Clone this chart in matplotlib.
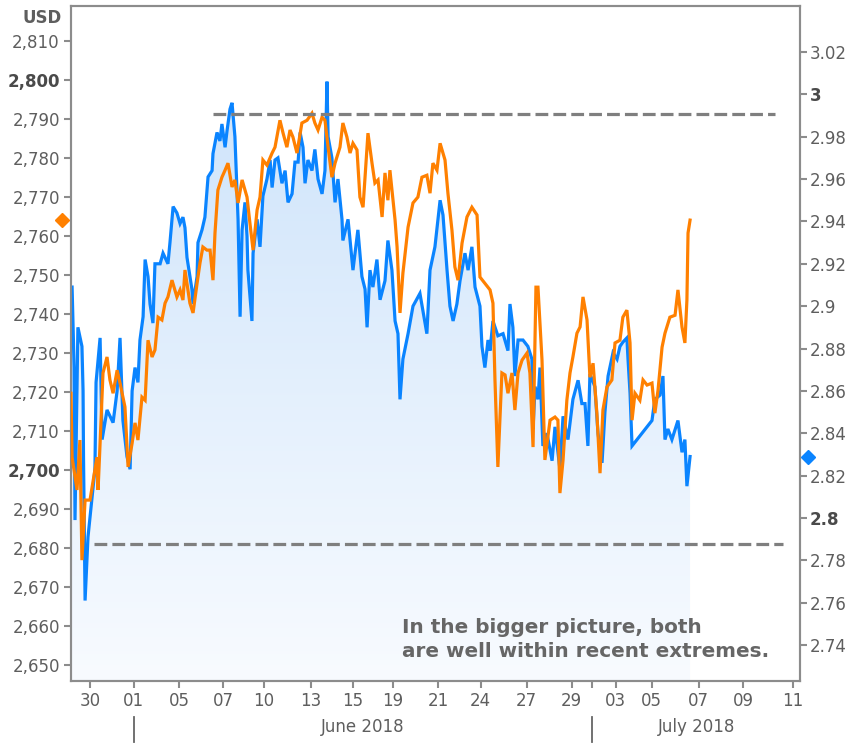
import numpy as np
import matplotlib
matplotlib.use('Agg')
import matplotlib.pyplot as plt
from matplotlib.colors import LinearSegmentedColormap
from matplotlib.ticker import FuncFormatter

# time axis in trading days, 0 = 30 May 2018
tick_pos = [0.00, 1.96, 3.97, 5.94, 7.77, 9.87, 11.74, 13.53, 15.55, 17.44,
            19.50, 21.50, 22.42, 23.48, 25.07, 27.17, 29.17, 31.37]
tick_labels = ['30', '01', '05', '07', '10', '13', '15', '19', '21', '24',
               '27', '29', '', '03', '05', '07', '09', '11']
month_labels = ['June 2018', 'July 2018']
month_starts = [1.96, 22.42]

# S&P 500 futures (left axis, USD)
t_spx = [-0.85, -0.80, -0.58, -0.45, -0.36, -0.22, -0.13, 0.00, 0.31, 0.36,
         0.45, 0.58, 0.76, 0.89, 1.03, 1.21, 1.34, 1.56, 1.70, 1.88,
         2.01, 2.14, 2.32, 2.46, 2.59, 2.77, 2.90, 3.04, 3.21, 3.35,
         3.48, 3.66, 3.88, 4.02, 4.15, 4.24, 4.46, 4.60, 4.78, 4.91,
         5.04, 5.22, 5.36, 5.49, 5.58, 5.71, 5.89, 6.03, 6.16, 6.34,
         6.47, 6.61, 6.79, 7.01, 7.14, 7.28, 7.46, 7.59, 7.72, 7.90,
         8.13, 8.26, 8.48, 8.62, 8.79, 8.93, 9.06, 9.24, 9.46, 9.69,
         9.91, 10.04, 10.18, 10.36, 10.49, 10.63, 10.80, 10.94, 11.16, 11.29,
         11.47, 11.61, 11.74, 11.92, 12.05, 12.19, 12.41, 12.59, 12.72, 12.86,
         13.04, 13.17, 13.30, 13.39, 13.62, 13.71, 13.84, 13.97, 14.20, 14.42,
         14.64, 14.82, 15.04, 15.18, 15.31, 15.49, 15.63, 15.85, 15.98, 16.16,
         16.29, 16.43, 16.61, 16.83, 17.05, 17.28, 17.41, 17.63, 17.86, 17.99,
         18.08, 18.21, 18.39, 18.53, 18.66, 18.84, 18.97, 19.11, 19.29, 19.51,
         19.64, 19.78, 19.91, 20.00, 20.18, 20.31, 20.54, 20.76, 20.89, 20.98,
         21.12, 21.29, 21.43, 21.56, 21.74, 21.88, 22.01, 22.19, 22.32, 22.46,
         22.63, 22.77, 22.90, 23.08, 23.30, 23.44, 23.66, 23.79, 23.97, 24.11,
         24.20, 24.33, 24.55, 24.69, 24.87, 25.09, 25.22, 25.36, 25.54, 25.67,
         25.89, 26.12, 26.25, 26.43, 26.56, 26.65, 26.70, 26.79]
spx = [2719.7, 2703.3, 2694.9, 2707.7, 2676.9, 2692.3, 2692.3, 2692.3, 2703.3, 2694.9,
       2706.9, 2724.9, 2729.0, 2723.1, 2719.7, 2725.6, 2722.3, 2716.2, 2700.8, 2706.9,
       2712.1, 2707.7, 2718.7, 2717.9, 2733.3, 2729.0, 2730.8, 2739.2, 2738.5, 2742.8,
       2744.4, 2748.7, 2744.4, 2746.2, 2743.6, 2751.3, 2742.8, 2740.3, 2747.9, 2753.1,
       2757.2, 2756.4, 2756.4, 2748.7, 2760.8, 2771.8, 2775.1, 2776.9, 2778.7, 2772.6,
       2774.4, 2768.5, 2774.4, 2770.0, 2763.3, 2756.4, 2766.7, 2770.0, 2779.5, 2778.2,
       2781.3, 2782.8, 2789.7, 2786.4, 2782.8, 2787.2, 2785.4, 2781.3, 2789.0, 2789.7,
       2791.5, 2789.0, 2787.2, 2790.5, 2789.7, 2782.8, 2775.1, 2778.7, 2782.8, 2789.0,
       2785.4, 2781.3, 2783.8, 2782.1, 2770.0, 2767.4, 2786.4, 2778.7, 2773.6, 2774.4,
       2764.9, 2776.2, 2769.2, 2776.9, 2764.1, 2757.2, 2740.3, 2750.5, 2762.3, 2768.5,
       2770.0, 2775.1, 2775.6, 2771.0, 2778.7, 2776.9, 2783.8, 2779.5, 2771.0, 2761.5,
       2752.1, 2748.7, 2758.2, 2764.9, 2767.4, 2765.4, 2749.5, 2747.9, 2746.2, 2742.8,
       2723.1, 2700.8, 2724.9, 2724.4, 2719.7, 2724.9, 2715.4, 2724.9, 2728.2, 2730.0,
       2724.9, 2705.9, 2746.9, 2746.9, 2728.2, 2702.6, 2712.8, 2713.6, 2712.8, 2694.1,
       2702.6, 2717.9, 2724.9, 2729.0, 2735.1, 2736.7, 2744.4, 2738.5, 2723.8, 2727.4,
       2714.6, 2699.2, 2715.4, 2721.3, 2723.1, 2732.6, 2733.3, 2739.2, 2741.0, 2732.6,
       2712.8, 2719.7, 2717.9, 2723.1, 2721.8, 2722.3, 2714.6, 2720.5, 2731.5, 2735.1,
       2739.2, 2739.7, 2746.2, 2736.7, 2732.6, 2743.6, 2760.8, 2764.1]

# 10-year yield (right axis)
t_yld = [-0.80, -0.71, -0.67, -0.54, -0.36, -0.31, -0.29, -0.22, -0.09, 0.22,
         0.27, 0.45, 0.54, 0.76, 1.03, 1.21, 1.34, 1.47, 1.65, 1.79,
         1.88, 2.01, 2.14, 2.23, 2.37, 2.46, 2.59, 2.68, 2.81, 2.90,
         3.13, 3.26, 3.48, 3.57, 3.71, 3.88, 4.02, 4.15, 4.24, 4.33,
         4.46, 4.55, 4.60, 4.78, 4.82, 5.00, 5.13, 5.27, 5.45, 5.49,
         5.67, 5.80, 5.89, 6.03, 6.12, 6.25, 6.34, 6.47, 6.61, 6.70,
         6.79, 6.92, 7.01, 7.05, 7.23, 7.28, 7.46, 7.59, 7.72, 7.90,
         8.04, 8.13, 8.26, 8.39, 8.57, 8.71, 8.84, 9.02, 9.15, 9.29,
         9.38, 9.51, 9.60, 9.73, 9.91, 10.04, 10.18, 10.36, 10.49, 10.58,
         10.63, 10.80, 10.94, 11.07, 11.25, 11.29, 11.52, 11.74, 11.96, 12.14,
         12.28, 12.37, 12.50, 12.63, 12.81, 12.95, 13.17, 13.30, 13.48, 13.62,
         13.75, 13.84, 13.97, 14.20, 14.42, 14.73, 15.04, 15.18, 15.40, 15.63,
         15.76, 15.94, 16.07, 16.21, 16.38, 16.52, 16.74, 16.88, 17.05, 17.19,
         17.41, 17.50, 17.63, 17.77, 17.86, 17.99, 18.21, 18.44, 18.66, 18.75,
         18.88, 18.97, 19.11, 19.33, 19.55, 19.73, 19.78, 19.87, 20.00, 20.09,
         20.22, 20.40, 20.63, 20.76, 20.98, 21.12, 21.34, 21.56, 21.79, 21.96,
         22.10, 22.23, 22.32, 22.54, 22.68, 22.86, 22.99, 23.13, 23.35, 23.53,
         23.66, 23.79, 23.97, 24.02, 24.11, 24.20, 25.09, 25.22, 25.45, 25.58,
         25.67, 25.80, 25.98, 26.25, 26.43, 26.56, 26.65, 26.79]
yld = [2.909, 2.871, 2.799, 2.890, 2.881, 2.860, 2.829, 2.761, 2.791, 2.823,
       2.864, 2.885, 2.837, 2.851, 2.845, 2.860, 2.885, 2.846, 2.829, 2.823,
       2.860, 2.871, 2.864, 2.884, 2.895, 2.922, 2.914, 2.901, 2.892, 2.920,
       2.920, 2.925, 2.920, 2.930, 2.947, 2.944, 2.939, 2.942, 2.937, 2.923,
       2.914, 2.908, 2.901, 2.914, 2.930, 2.936, 2.942, 2.961, 2.964, 2.972,
       2.982, 2.978, 2.986, 2.975, 2.983, 2.993, 2.996, 2.980, 2.941, 2.895,
       2.936, 2.949, 2.933, 2.917, 2.893, 2.925, 2.941, 2.928, 2.952, 2.960,
       2.969, 2.956, 2.969, 2.970, 2.958, 2.964, 2.949, 2.953, 2.968, 2.968,
       2.982, 2.975, 2.958, 2.969, 2.964, 2.974, 2.960, 2.953, 2.964, 3.006,
       2.980, 2.970, 2.949, 2.960, 2.941, 2.931, 2.941, 2.917, 2.936, 2.914,
       2.908, 2.890, 2.917, 2.909, 2.922, 2.903, 2.912, 2.931, 2.917, 2.893,
       2.887, 2.856, 2.875, 2.887, 2.900, 2.906, 2.887, 2.917, 2.928, 2.950,
       2.943, 2.917, 2.900, 2.893, 2.901, 2.912, 2.925, 2.917, 2.928, 2.909,
       2.900, 2.881, 2.871, 2.884, 2.879, 2.893, 2.886, 2.887, 2.879, 2.901,
       2.890, 2.867, 2.884, 2.884, 2.881, 2.875, 2.842, 2.862, 2.856, 2.871,
       2.834, 2.840, 2.827, 2.843, 2.823, 2.848, 2.837, 2.856, 2.865, 2.854,
       2.854, 2.834, 2.868, 2.862, 2.840, 2.826, 2.850, 2.867, 2.878, 2.875,
       2.881, 2.883, 2.885, 2.875, 2.859, 2.834, 2.846, 2.856, 2.858, 2.867,
       2.837, 2.842, 2.837, 2.846, 2.831, 2.837, 2.815, 2.829]

# recent extremes (left axis) and their spans
hi_level, hi_span = 2791.3, (5.49, 30.58)
lo_level, lo_span = 2681.0, (0.18, 30.94)

note = 'In the bigger picture, both\nare well within recent extremes.'

ORANGE = '#ff8000'
BLUE = '#0a84ff'
GREY_TXT = '#5e5e5e'
FRAME = '#8c8c8c'

xlim = (-0.85, 31.70)
ylim_l = (2645.9, 2819.0)
ylim_r = (2.7230, 3.0417)

plt.rcParams['font.family'] = 'DejaVu Sans'

fig = plt.figure(figsize=(8.54, 7.43), dpi=100)
ax1 = fig.add_axes([0.0831, 0.0834, 0.8537, 0.9085])
ax2 = ax1.twinx()
ax1.set_zorder(ax2.get_zorder() + 1)
ax1.patch.set_visible(False)

# gradient area under the yield line
grad = np.linspace(0, 1, 256).reshape(-1, 1)
cmap = LinearSegmentedColormap.from_list('area', ['#f8fbff', '#c9e1fa'])
im = ax2.imshow(grad, extent=[xlim[0], xlim[1], ylim_r[0], ylim_r[1]],
                origin='lower', aspect='auto', cmap=cmap, zorder=1)
area = ax2.fill_between(t_yld, yld, ylim_r[0], color='none', lw=0)
im.set_clip_path(area.get_paths()[0], transform=ax2.transData)

ax2.plot(t_yld, yld, color=BLUE, lw=2.3, zorder=3, solid_joinstyle='miter')
ax1.plot(t_spx, spx, color=ORANGE, lw=2.3, zorder=3, solid_joinstyle='miter')

for lvl, span in [(hi_level, hi_span), (lo_level, lo_span)]:
    ax1.plot(span, [lvl, lvl], color='#7f7f7f', lw=2.3,
             linestyle=(0, (4, 1.6)), zorder=4)

ax1.set_xlim(*xlim)
ax1.set_ylim(*ylim_l)
ax2.set_ylim(*ylim_r)

# last-value markers on the axes
ax1.plot([-0.0123], [spx[-1]], marker='D', ms=7, color=ORANGE, clip_on=False,
         transform=ax1.get_yaxis_transform(), zorder=5)
ax2.plot([1.011], [yld[-1]], marker='D', ms=7, color=BLUE, clip_on=False,
         transform=ax2.get_yaxis_transform(), zorder=5)

# axes styling
for ax in (ax1, ax2):
    for sp in ax.spines.values():
        sp.set_color(FRAME)
        sp.set_linewidth(1.5)

ax1.set_yticks(np.arange(2650, 2811, 10))
ax1.yaxis.set_major_formatter(FuncFormatter(lambda v, p: f'{v:,.0f}'))
ax2.set_yticks(np.round(np.arange(2.74, 3.021, 0.02), 2))
ax2.yaxis.set_major_formatter(FuncFormatter(lambda v, p: f'{v:.2f}'.rstrip('0').rstrip('.')))

ax1.tick_params(axis='y', length=5, width=1.5, color=FRAME, labelcolor=GREY_TXT,
                labelsize=12, pad=3)
ax2.tick_params(axis='y', length=5, width=1.5, color=FRAME, labelcolor=GREY_TXT,
                labelsize=12, pad=2)

for lab in ax1.get_yticklabels():
    if lab.get_text() in ('2,800', '2,700'):
        lab.set_fontweight('bold')
        lab.set_color('#4a4a4a')
for lab in ax2.get_yticklabels():
    if lab.get_text() in ('3', '2.8'):
        lab.set_fontweight('bold')
        lab.set_color('#4a4a4a')

ax1.set_xticks(tick_pos)
ax1.set_xticklabels(tick_labels)
ax1.tick_params(axis='x', length=5, width=1.5, color=FRAME, labelcolor=GREY_TXT,
                labelsize=12, pad=3)

# unit label and month row under the day labels
ax1.text(-0.012, 0.982, 'USD', transform=ax1.transAxes, fontsize=12,
         fontweight='bold', color=GREY_TXT, ha='right', va='center')
trans = ax1.get_xaxis_transform()
for x0 in month_starts:
    ax1.plot([x0, x0], [-0.053, -0.090], color='#666666', lw=1.3,
             transform=trans, clip_on=False)
month_ends = month_starts[1:] + [xlim[1]]
for name, a, b in zip(month_labels, month_starts, month_ends):
    ax1.text((a + b) / 2, -0.068, name, transform=trans, ha='center', va='center',
             fontsize=12, color=GREY_TXT)

ax1.text(13.93, 2651.0, note, fontsize=14.4, fontweight='bold', color='#666666',
         ha='left', va='bottom', linespacing=1.35, zorder=6)

fig.savefig('out.png', dpi=100)
